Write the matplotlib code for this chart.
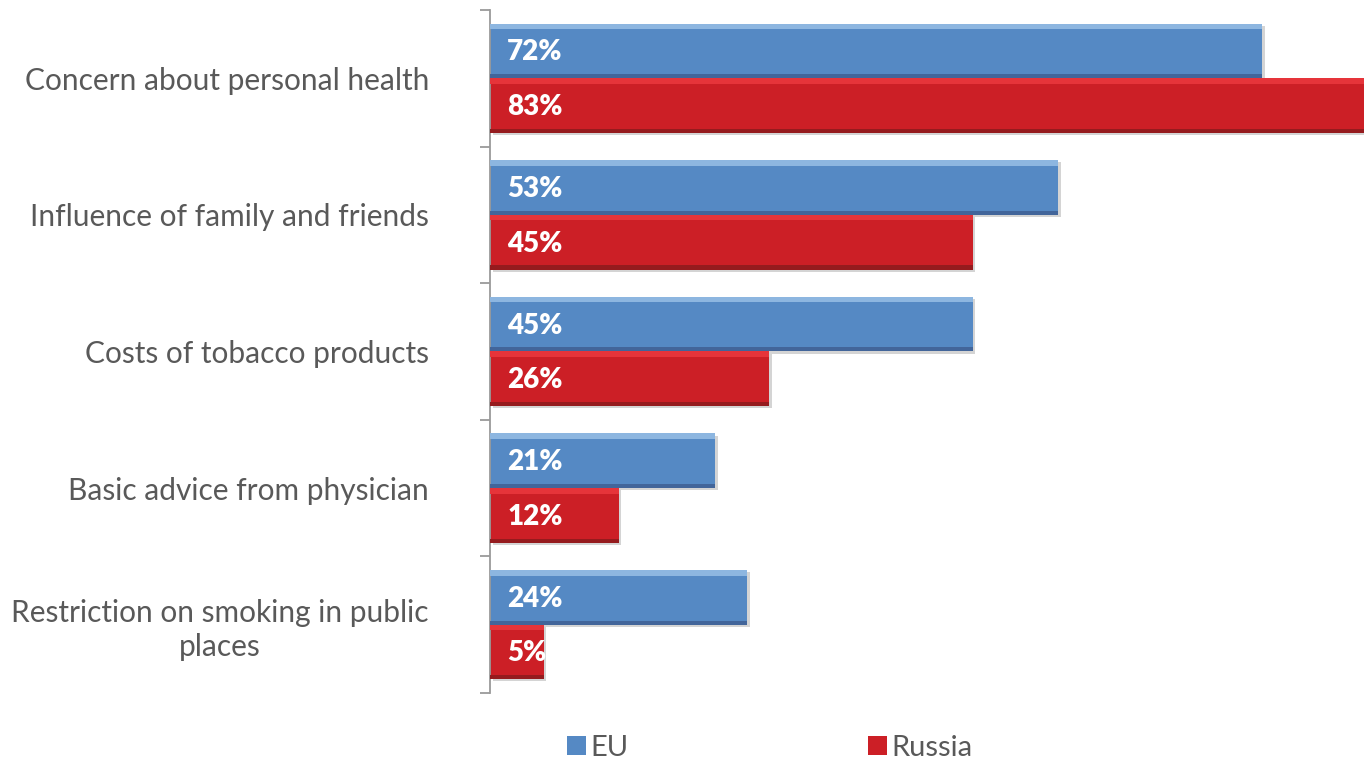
import numpy as np
import matplotlib.pyplot as plt

categories = ["Concern about personal health",
              "Influence of family and friends",
              "Costs of tobacco products",
              "Basic advice from physician",
              "Restriction on smoking in public\nplaces"]
eu = [72, 53, 45, 21, 24]
russia = [83, 45, 26, 12, 5]

eu_col, eu_hi, eu_lo = "#5589C4", "#8DB6E0", "#42659A"
ru_col, ru_hi, ru_lo = "#CC1F26", "#E6343A", "#951B1E"
txt_col = "#595959"
font = "Lato"

fig = plt.figure(figsize=(13.64, 7.6), dpi=100)
ax = fig.add_axes([490 / 1364, 1 - 693 / 760, 1 - 490 / 1364, 683 / 760])

y = np.arange(len(categories))
h = 0.4


def bevel_bars(pos, vals, col, hi, lo, label):
    # shadow, body, top highlight, bottom dark edge
    ax.barh(pos + 0.015, vals, height=h, left=0.25, color="#D4D4D4", zorder=1)
    ax.barh(pos, vals, height=h, color=col, zorder=2, label=label)
    ax.barh(pos - h / 2 + 0.02, vals, height=0.04, color=hi, zorder=3)
    ax.barh(pos + h / 2 - 0.015, vals, height=0.03, color=lo, zorder=3)
    for p, v in zip(pos, vals):
        ax.text(1.6, p + 0.01, f"{v}%", color="white", fontsize=20,
                fontweight="heavy", family=font, va="center", ha="left", zorder=4)


bevel_bars(y - 0.2, eu, eu_col, eu_hi, eu_lo, "EU")
bevel_bars(y + 0.2, russia, ru_col, ru_hi, ru_lo, "Russia")

ax.set_xlim(0, 81.5)
ax.set_ylim(len(categories) - 0.5, -0.5)
ax.set_xticks([])
ax.set_yticks(y)
ax.set_yticklabels(categories, fontsize=21.5, color=txt_col, family=font,
                   multialignment="center", linespacing=1.25)
ax.tick_params(axis="y", which="major", length=0, pad=44)
ax.set_yticks(np.arange(len(categories) + 1) - 0.5, minor=True)
ax.tick_params(axis="y", which="minor", length=7, color="#9A9A9A", width=1.3)
for s in ["top", "right", "bottom"]:
    ax.spines[s].set_visible(False)
ax.spines["left"].set_color("#9A9A9A")
ax.spines["left"].set_linewidth(1.3)

handles, labels = ax.get_legend_handles_labels()
fig.legend(handles, labels, loc="center", bbox_to_anchor=(770 / 1364, 12 / 760),
           ncol=2, frameon=False, prop={"family": font, "size": 21},
           labelcolor=txt_col, handlelength=0.65, handleheight=0.65,
           handletextpad=0.15, columnspacing=8.2)

fig.savefig("out.png", dpi=100)
